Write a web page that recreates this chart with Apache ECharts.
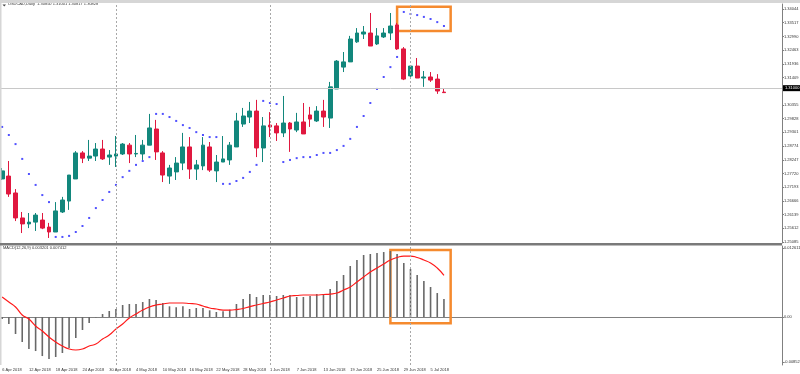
<!DOCTYPE html>
<html><head><meta charset="utf-8">
<script src="https://cdn.jsdelivr.net/npm/echarts@6/dist/echarts.min.js"></script>
<style>html,body{margin:0;padding:0;background:#fff}#c{width:800px;height:374px}</style>
</head><body><div id="c"></div>
<script>
const dates = ['6 Apr 2018','9 Apr 2018','10 Apr 2018','11 Apr 2018','12 Apr 2018','13 Apr 2018',
'16 Apr 2018','17 Apr 2018','18 Apr 2018','19 Apr 2018','20 Apr 2018',
'23 Apr 2018','24 Apr 2018','25 Apr 2018','26 Apr 2018','27 Apr 2018',
'30 Apr 2018','1 May 2018','2 May 2018','3 May 2018','4 May 2018',
'7 May 2018','8 May 2018','9 May 2018','10 May 2018','11 May 2018',
'14 May 2018','15 May 2018','16 May 2018','17 May 2018','18 May 2018',
'21 May 2018','22 May 2018','23 May 2018','24 May 2018','25 May 2018',
'28 May 2018','29 May 2018','30 May 2018','31 May 2018','1 Jun 2018',
'4 Jun 2018','5 Jun 2018','6 Jun 2018','7 Jun 2018','8 Jun 2018',
'11 Jun 2018','12 Jun 2018','13 Jun 2018','14 Jun 2018','15 Jun 2018',
'18 Jun 2018','19 Jun 2018','20 Jun 2018','21 Jun 2018','22 Jun 2018',
'25 Jun 2018','26 Jun 2018','27 Jun 2018','28 Jun 2018','29 Jun 2018',
'2 Jul 2018','3 Jul 2018','4 Jul 2018','5 Jul 2018','6 Jul 2018','9 Jul 2018'];

const openP = [1.2751,1.2762,1.2697,1.2601,1.2578,1.2585,1.2593,1.2566,1.2547,1.2624,
 1.2666,1.2751,1.2851,1.2831,1.2839,1.2866,1.2835,1.2839,1.2847,1.2881,
 1.2847,1.2847,1.2881,1.2943,1.2851,1.2762,1.2778,1.2812,1.2874,1.2789,
 1.2801,1.2874,1.2782,1.2816,1.2824,1.2874,1.2962,1.2989,1.3012,1.2870,
 1.2958,1.2955,1.2928,1.2966,1.2939,1.2970,1.2997,1.2974,1.3012,1.2985,
 1.3097,1.3181,1.3201,1.3278,1.3308,1.3312,1.3270,1.3297,1.3312,1.3343,
 1.3251,1.3147,1.3185,1.3139,1.3143,1.3135,1.30850];
const closeP = [1.2782,1.2693,1.2601,1.2578,1.2585,1.2612,1.2562,1.2547,1.2628,1.2670,
 1.2766,1.2851,1.2831,1.2839,1.2866,1.2828,1.2843,1.2847,1.2885,1.2847,
 1.2849,1.2881,1.2947,1.2855,1.2766,1.2793,1.2812,1.2874,1.2789,1.2805,
 1.2881,1.2785,1.2816,1.2828,1.2881,1.2974,1.2993,1.3012,1.2870,1.2955,
 1.2951,1.2928,1.2966,1.2943,1.2970,1.2924,1.2981,1.3012,1.2989,1.3105,
 1.3204,1.3201,1.3289,1.3312,1.3316,1.3262,1.3301,1.3312,1.3339,1.3251,
 1.3135,1.3185,1.3139,1.3143,1.3131,1.3089,1.30828];
const lowP = [1.2747,1.2682,1.2589,1.2543,1.2562,1.2551,1.2558,1.2524,1.2547,1.2620,
 1.2632,1.2751,1.2812,1.2820,1.2820,1.2824,1.2805,1.2797,1.2843,1.2812,
 1.2835,1.2824,1.2881,1.2824,1.2739,1.2732,1.2747,1.2785,1.2751,1.2747,
 1.2785,1.2778,1.2739,1.2816,1.2805,1.2874,1.2951,1.2966,1.2835,1.2816,
 1.2912,1.2897,1.2912,1.2855,1.2931,1.2924,1.2951,1.2970,1.2951,1.2947,
 1.3097,1.3162,1.3201,1.3274,1.3289,1.3262,1.3266,1.3293,1.3285,1.3247,
 1.3131,1.3143,1.3139,1.3105,1.3124,1.3078,1.30817];
const highP = [1.2793,1.2820,1.2712,1.2624,1.2620,1.2620,1.2620,1.2582,1.2662,1.2682,
 1.2766,1.2858,1.2858,1.2901,1.2889,1.2901,1.2862,1.2916,1.2889,1.2889,
 1.2920,1.2901,1.3001,1.2978,1.2858,1.2805,1.2835,1.2928,1.2912,1.2824,
 1.2912,1.2893,1.2843,1.2916,1.2893,1.3005,1.3024,1.3047,1.3055,1.2989,
 1.3008,1.2966,1.3070,1.2970,1.3005,1.3043,1.3028,1.3031,1.3055,1.3124,
 1.3208,1.3239,1.3301,1.3331,1.3339,1.3389,1.3331,1.3331,1.3389,1.3351,
 1.3258,1.3189,1.3216,1.3166,1.3162,1.3154,1.31001];
const sar = [1.2951,1.2920,1.2885,1.2828,1.2770,1.2728,1.2689,1.2662,1.2528,1.2528,
 1.2532,1.2547,1.2570,1.2601,1.2639,1.2670,1.2701,1.2728,1.2758,1.2782,
 1.2805,1.2820,1.2835,1.3001,1.3001,1.2989,1.2974,1.2958,1.2947,1.2931,
 1.2920,1.2912,1.2912,1.2732,1.2732,1.2743,1.2755,1.2778,1.2805,1.3051,
 1.3043,1.3039,1.2816,1.2824,1.2831,1.2835,1.2835,1.2843,1.2851,1.2851,
 1.2862,1.2878,1.2905,1.2951,1.2993,1.3043,1.3097,1.3143,1.3181,1.3220,
 1.3393,1.3385,1.3381,1.3374,1.3366,1.3354,1.3339];
const macdHist = [-0.00036,-0.00124,-0.00302,-0.00444,-0.00568,-0.00604,-0.00693,-0.00746,-0.00710,-0.00639,
 -0.00551,-0.00373,-0.00231,-0.00107,-0.00009,0.00053,0.00107,0.00142,0.00213,0.00231,
 0.00231,0.00266,0.00320,0.00302,0.00249,0.00190,0.00172,0.00190,0.00142,0.00160,
 0.00160,0.00119,0.00089,0.00101,0.00130,0.00231,0.00320,0.00408,0.00355,0.00391,
 0.00391,0.00373,0.00391,0.00391,0.00355,0.00355,0.00373,0.00408,0.00408,0.00497,
 0.00639,0.00746,0.00906,0.01012,0.01101,0.01119,0.01137,0.01154,0.01172,0.01119,
 0.00959,0.00852,0.00746,0.00639,0.00533,0.00426,0.00320];
const macdSignal = [0.00355,0.00266,0.00178,0.00036,-0.00036,-0.00160,-0.00249,-0.00355,-0.00444,-0.00515,
 -0.00568,-0.00586,-0.00568,-0.00515,-0.00480,-0.00391,-0.00320,-0.00213,-0.00124,-0.00018,
 0.00053,0.00124,0.00178,0.00213,0.00231,0.00249,0.00249,0.00249,0.00240,0.00231,
 0.00195,0.00160,0.00142,0.00124,0.00124,0.00133,0.00151,0.00186,0.00213,0.00240,
 0.00266,0.00302,0.00337,0.00373,0.00382,0.00391,0.00391,0.00391,0.00400,0.00408,
 0.00426,0.00480,0.00533,0.00622,0.00710,0.00799,0.00870,0.00941,0.01012,0.01057,
 0.01083,0.01083,0.01057,0.01012,0.00959,0.00870,0.00741];

const priceTicks = [1.25085,1.25612,1.26139,1.26666,1.27193,1.27720,1.28247,1.28774,1.29301,1.29828,
 1.30355,1.31409,1.31936,1.32463,1.32990,1.33517,1.34044];
const currentPrice = 1.30828;
const macdTickPos = [0.0123, 0, -0.0080];
const macdTickLabels = ['0.012611', '0.00', '-0.00852'];
const monthStarts = ['1 May 2018', '1 Jun 2018', '2 Jul 2018'];
const titleMain = 'USDCAD,Daily  1.30850 1.31001 1.30817 1.30828';
const titleMacd = 'MACD(12,26,9) 0.003201 0.007412';
const padCats = Array.from({length: 50}, (_, k) => '_' + k);
const boxMain = [['28 Jun 2018', 1.34132], ['_0', 1.33198]];
const boxMacd = [['27 Jun 2018', 0.01190], ['_0', -0.00112]];

const cats = dates.concat(padCats);
const F = 'Liberation Sans';
const ORANGE = '#F58A2E';
const candleData = dates.map((d, i) => [openP[i], closeP[i], lowP[i], highP[i]]);
const vLines = monthStarts.map(m => ({xAxis: m}));
const dashStyle = {type: [2, 2], color: '#a8a8a8', width: 1};

const chart = echarts.init(document.getElementById('c'), null, {renderer: 'canvas'});
chart.setOption({
  animation: false,
  backgroundColor: '#fff',
  textStyle: {fontFamily: F},
  title: [
    {text: titleMain, left: 8, top: 2, padding: 0, textStyle: {fontSize: 4, fontWeight: 'normal', color: '#333', fontFamily: F}},
    {text: titleMacd, left: 3, top: 246, padding: 0, textStyle: {fontSize: 4, fontWeight: 'normal', color: '#333', fontFamily: F}}
  ],
  grid: [
    {left: -1.2, top: 4, width: 783.2, height: 239, containLabel: false, outerBoundsMode: 'none'},
    {left: -1.2, top: 246, width: 783.2, height: 119, containLabel: false, outerBoundsMode: 'none'}
  ],
  xAxis: [
    {type: 'category', gridIndex: 0, data: cats, boundaryGap: true,
     axisLine: {show: false}, axisTick: {show: false}, axisLabel: {show: false}, splitLine: {show: false}},
    {type: 'category', gridIndex: 1, data: cats, boundaryGap: true,
     axisLine: {show: true, lineStyle: {color: '#808080', width: 1}}, axisTick: {show: false},
     axisLabel: {interval: 3, align: 'left', fontSize: 4, color: '#333', margin: 3, fontFamily: F,
       formatter: v => v.startsWith('_') ? '' : v},
     splitLine: {show: false}}
  ],
  yAxis: [
    {type: 'value', gridIndex: 0, position: 'right', min: 1.25047, max: 1.34236,
     splitLine: {show: false}, axisLine: {show: true, lineStyle: {color: '#808080'}},
     axisTick: {show: true, length: 2, customValues: priceTicks, lineStyle: {color: '#808080'}},
     axisLabel: {customValues: priceTicks, formatter: v => v.toFixed(5), fontSize: 4, color: '#333', margin: 2, fontFamily: F}},
    {type: 'value', gridIndex: 1, position: 'right', min: -0.00852, max: 0.012611,
     splitLine: {show: false}, axisLine: {show: true, lineStyle: {color: '#808080'}},
     axisTick: {show: true, length: 2, customValues: macdTickPos, lineStyle: {color: '#808080'}},
     axisLabel: {customValues: macdTickPos, fontSize: 4, color: '#333', margin: 2, fontFamily: F,
       formatter: v => { const k = macdTickPos.findIndex(t => Math.abs(t - v) < 1e-7); return k >= 0 ? macdTickLabels[k] : ''; }}}
  ],
  series: [
    {type: 'candlestick', xAxisIndex: 0, yAxisIndex: 0, data: candleData, barWidth: '64%',
     itemStyle: {color: '#12877C', color0: '#E0183F', borderColor: '#12877C', borderColor0: '#E0183F', borderWidth: 1},
     markLine: {silent: true, symbol: ['none', 'none'], animation: false,
       data: vLines.map(v => Object.assign({}, v, {lineStyle: dashStyle, label: {show: false}})).concat([
         {yAxis: currentPrice, lineStyle: {type: 'solid', color: '#c8c8c8', width: 1},
          label: {show: true, position: 'end', distance: 1, formatter: p => p.value.toFixed(5),
            backgroundColor: '#000', color: '#fff', fontSize: 4, padding: [1, 2, 1, 2], fontFamily: F}}
       ])}},
    {type: 'scatter', xAxisIndex: 0, yAxisIndex: 0, data: sar, symbol: 'rect', symbolSize: 2,
     itemStyle: {color: '#2626ff'},
     markArea: {silent: true, itemStyle: {color: 'rgba(0,0,0,0)', borderColor: ORANGE, borderWidth: 2.5},
       data: [[{coord: boxMain[0]}, {coord: boxMain[1]}]]}},
    {type: 'bar', xAxisIndex: 1, yAxisIndex: 1, data: macdHist, barWidth: 1.6,
     itemStyle: {color: '#686868'},
     markLine: {silent: true, symbol: ['none', 'none'], animation: false,
       data: vLines.map(v => Object.assign({}, v, {lineStyle: dashStyle, label: {show: false}}))}},
    {type: 'line', xAxisIndex: 1, yAxisIndex: 1, data: macdSignal, smooth: true, showSymbol: false,
     lineStyle: {color: '#ff1a1a', width: 1.2},
     markArea: {silent: true, itemStyle: {color: 'rgba(0,0,0,0)', borderColor: ORANGE, borderWidth: 2.5},
       data: [[{coord: boxMacd[0]}, {coord: boxMacd[1]}]]}}
  ],
  graphic: [
    {type: 'rect', z: 100, shape: {x: 0, y: 0, width: 800, height: 3}, style: {fill: '#d6d6d6'}},
    {type: 'rect', z: 100, shape: {x: 0, y: 0, width: 1.5, height: 365}, style: {fill: '#d6d6d6'}},
    {type: 'rect', z: 100, shape: {x: 0, y: 243, width: 782, height: 2.5}, style: {fill: '#7a7a7a'}},
    {type: 'polygon', z: 100, shape: {points: [[2.5, 4.5], [6, 4.5], [4.25, 6.5]]}, style: {fill: '#444'}}
  ]
});
</script></body></html>
